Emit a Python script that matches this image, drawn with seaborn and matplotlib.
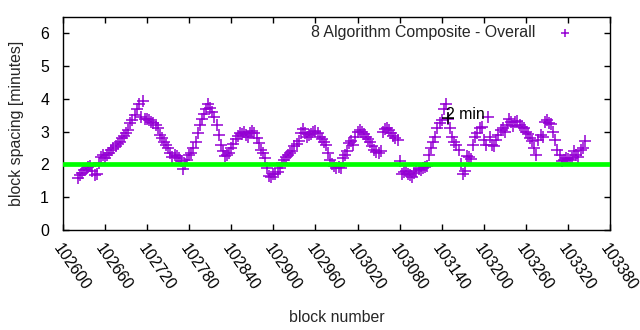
import numpy as np
import pandas as pd
import matplotlib
matplotlib.use("Agg")
import matplotlib.pyplot as plt
import seaborn as sns

block_start = 102621
block_step = 3
spacing_minutes = [
    1.60, 1.68, 1.75, 1.82, 1.86, 1.92, 1.95, 1.80, 1.68, 1.72,
    2.05, 2.22, 2.28, 2.20, 2.30, 2.35, 2.45, 2.50, 2.55, 2.62,
    2.70, 2.80, 2.88, 2.95, 3.05, 3.25, 3.35, 3.50, 3.70, 3.85,
    3.45, 3.95, 3.40, 3.38, 3.35, 3.30, 3.25, 3.20, 3.10, 2.90,
    2.80, 2.70, 2.60, 2.50, 2.35, 2.22, 2.28, 2.25, 2.20, 2.10,
    1.85, 2.00, 2.15, 2.28, 2.35, 2.50, 2.70, 2.95, 3.20, 3.40,
    3.55, 3.70, 3.85, 3.72, 3.60, 3.45, 3.20, 2.90, 2.60, 2.40,
    2.25, 2.28, 2.35, 2.50, 2.62, 2.78, 2.88, 2.95, 2.92, 2.98,
    2.90, 2.85, 2.95, 3.02, 2.95, 2.80, 2.65, 2.45, 2.35, 2.20,
    1.90, 1.65, 1.62, 1.70, 1.72, 1.78, 1.90, 2.05, 2.15, 2.22,
    2.28, 2.35, 2.42, 2.55, 2.62, 2.72, 2.95, 3.08, 2.95, 2.85,
    2.90, 2.92, 2.98, 3.02, 2.95, 2.85, 2.78, 2.70, 2.58, 2.35,
    2.15, 2.00, 1.95, 1.90, 1.92, 1.90, 2.20, 2.30, 2.42, 2.65,
    2.72, 2.60, 2.85, 3.00, 3.05, 3.00, 2.92, 2.85, 2.78, 2.70,
    2.55, 2.45, 2.38, 2.35, 2.40, 3.00, 3.08, 3.10, 3.05, 2.95,
    2.88, 2.82, 2.75, 2.10, 1.72, 1.78, 1.80, 1.72, 1.68, 1.62,
    1.75, 1.80, 1.85, 1.82, 1.90, 1.92, 1.95, 2.30, 2.50, 2.70,
    2.85, 3.10, 3.25, 3.35, 3.70, 3.85, 3.40, 3.10, 2.85, 2.70,
    2.58, 2.45, 2.00, 1.70, 1.80, 2.25, 2.22, 2.18, 2.60, 2.85,
    2.95, 3.10, 3.15, 2.75, 2.60, 3.45, 2.85, 2.60, 2.55, 2.75,
    2.90, 3.05, 3.10, 3.00, 3.20, 3.40, 3.30, 3.18, 3.30, 3.32,
    3.20, 3.15, 3.10, 3.00, 2.92, 2.80, 2.72, 2.50, 2.28, 2.75,
    2.90, 2.85, 3.30, 3.35, 3.28, 3.22, 3.00, 2.75, 2.45, 2.30,
    2.12, 2.15, 2.20, 2.18, 2.15, 2.20, 2.40, 2.30, 2.22, 2.45,
    2.50, 2.72,
]
blocks = [block_start + block_step * i for i in range(len(spacing_minutes))]

extra_blocks = [103149]
extra_values = [3.42]

target_minutes = 2
series_label = "8 Algorithm Composite - Overall"
target_label = "2 min"
x_ticks = list(range(102600, 103381, 60))
y_ticks = [0, 1, 2, 3, 4, 5, 6]

df = pd.DataFrame({"block": blocks, "spacing": spacing_minutes})
df_extra = pd.DataFrame({"block": extra_blocks, "spacing": extra_values})

sns.set_theme(style="ticks")
plt.rcParams["font.family"] = ["Liberation Sans", "DejaVu Sans"]
FS = 11.4

fig = plt.figure(figsize=(6.4, 3.3), dpi=100)
ax = fig.add_axes([63 / 640, 1 - 230 / 330, (610 - 63) / 640, (230 - 17) / 330])

sns.scatterplot(data=df, x="block", y="spacing", marker="+", s=75,
                color="#9400D3", linewidth=1.1, ax=ax, label=series_label,
                zorder=2)
sns.scatterplot(data=df_extra, x="block", y="spacing", marker="+", s=75,
                color="black", linewidth=1.1, ax=ax, zorder=2)
ax.axhline(target_minutes, color="#00FF00", linewidth=3.4, zorder=3)
ax.text(103146, 3.52, target_label, fontsize=FS, va="center", ha="left",
        color="black")

ax.set_xlim(102600, 103380)
ax.set_ylim(0, 6.5)
ax.set_xticks(x_ticks)
ax.set_yticks(y_ticks)
ax.set_xticklabels([str(t) for t in x_ticks], rotation=-55, ha="left",
                   va="top", rotation_mode="anchor", fontsize=FS)
ax.set_yticklabels([str(t) for t in y_ticks], fontsize=FS)
ax.tick_params(axis="x", direction="in", top=True, length=4, width=1,
               colors="black", pad=8)
ax.tick_params(axis="y", direction="in", right=True, length=4, width=1,
               colors="black", pad=10)
for sp in ax.spines.values():
    sp.set_linewidth(1.0)
    sp.set_color("black")

ax.set_xlabel("block number", fontsize=FS, labelpad=12)
ax.set_ylabel("block spacing [minutes]", fontsize=FS, labelpad=12)

leg = ax.legend(loc="upper right", frameon=False, markerfirst=False,
                fontsize=FS, handletextpad=0.9, borderaxespad=0.1,
                handlelength=2.0, markerscale=0.7,
                bbox_to_anchor=(0.962, 1.0))

fig.savefig("out.png", dpi=100)
